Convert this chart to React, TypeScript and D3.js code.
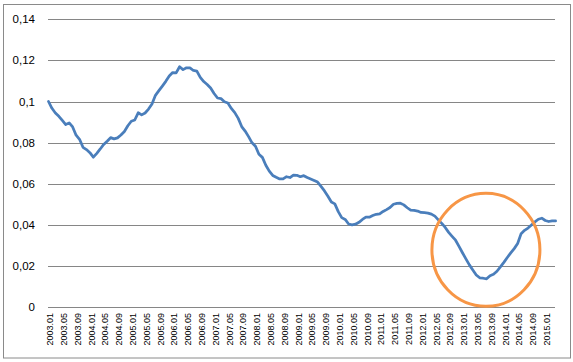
import React, { useEffect, useRef } from 'react';
import * as d3 from 'd3';

// monthly values, 2003.01 .. 2015.04
const values: number[] = [
  0.1, 0.0967, 0.0944, 0.0928, 0.0908, 0.0888, 0.0896, 0.0876, 0.0836, 0.0816,
  0.0777, 0.0766, 0.0751, 0.0729, 0.0748, 0.0769, 0.0791, 0.0807, 0.0824, 0.0818,
  0.0823, 0.0837, 0.0854, 0.0882, 0.0904, 0.091, 0.0945, 0.0935, 0.0944, 0.0963,
  0.0988, 0.103, 0.1053, 0.1075, 0.1098, 0.1124, 0.1141, 0.1139, 0.1169, 0.1155,
  0.1164, 0.1164, 0.1151, 0.1148, 0.1117, 0.1097, 0.1083, 0.1066, 0.1039, 0.1017,
  0.1014, 0.0999, 0.0993, 0.0966, 0.0946, 0.0918, 0.0878, 0.0856, 0.0829, 0.0799,
  0.0782, 0.0743, 0.0728, 0.069, 0.0661, 0.064, 0.0631, 0.0623, 0.0623, 0.0634,
  0.063, 0.0642, 0.0641, 0.0634, 0.0639, 0.063, 0.0623, 0.0616, 0.0608, 0.0587,
  0.0565, 0.0539, 0.0511, 0.0502, 0.0464, 0.0435, 0.0426, 0.0404, 0.04, 0.0403,
  0.0412, 0.0426, 0.0437, 0.0437, 0.0445, 0.0451, 0.0453, 0.0465, 0.0474, 0.0484,
  0.05, 0.0504, 0.0505, 0.0497, 0.0483, 0.0471, 0.047, 0.0467, 0.046, 0.0459,
  0.0457, 0.0452, 0.0442, 0.0424, 0.0407, 0.0387, 0.0363, 0.0344, 0.0325, 0.0295,
  0.0264, 0.0234, 0.0205, 0.018, 0.0156, 0.0142, 0.014, 0.0137, 0.0152, 0.0159,
  0.0174, 0.0195, 0.0217, 0.0241, 0.0263, 0.0284, 0.0309, 0.0357, 0.0373, 0.0384,
  0.0399, 0.0414, 0.0427, 0.0432, 0.0421, 0.0416, 0.0419, 0.0419,
];

const startYear = 2003;
const months: string[] = values.map((_, i) => {
  const y = startYear + Math.floor(i / 12);
  const m = (i % 12) + 1;
  return `${y}.${m < 10 ? '0' + m : m}`;
});
// every 4th month gets a label
const tickLabels = months.filter((_, i) => i % 4 === 0);
const yTicks = [0, 0.02, 0.04, 0.06, 0.08, 0.1, 0.12, 0.14];

// highlighted dip (month index, value)
const highlight = { month: 126.8, value: 0.0278 };

const W = 573;
const H = 362;

export default function App() {
  const svgRef = useRef<SVGSVGElement>(null);

  useEffect(() => {
    if (!svgRef.current) return;
    const svg = d3.select(svgRef.current);
    svg.selectAll('*').remove();

    const left = 48.5;
    const right = 555.6;
    const top = 19.3;
    const bottom = 307;

    const x = d3.scalePoint<string>().domain(months).range([left, right]);
    const y = d3.scaleLinear().domain([0, 0.14]).range([bottom, top]);
    const xi = d3.scaleLinear().domain([0, months.length - 1]).range([left, right]);

    // chart border
    svg.append('rect')
      .attr('x', 3.5).attr('y', 4.5)
      .attr('width', 567).attr('height', 353.5)
      .attr('fill', '#fff')
      .attr('stroke', '#8a8a8a')
      .attr('stroke-width', 1);

    // gridlines
    svg.append('g')
      .selectAll('line')
      .data(yTicks)
      .enter()
      .append('line')
      .attr('x1', 48)
      .attr('x2', 555)
      .attr('y1', d => Math.round(y(d)) + 0.5)
      .attr('y2', d => Math.round(y(d)) + 0.5)
      .attr('stroke', '#868686')
      .attr('stroke-width', 1);

    // y labels
    const fmt = (d: number) => (d === 0 ? '0' : String(+d.toFixed(2)).replace('.', ','));
    svg.append('g')
      .selectAll('text')
      .data(yTicks)
      .enter()
      .append('text')
      .attr('x', 35)
      .attr('y', d => y(d))
      .attr('dy', '0.35em')
      .attr('text-anchor', 'end')
      .attr('font-family', '"Liberation Sans", Arial, sans-serif')
      .attr('font-size', 11.5)
      .attr('fill', '#000')
      .text(fmt);

    // x labels
    svg.append('g')
      .selectAll('text')
      .data(tickLabels)
      .enter()
      .append('text')
      .attr('transform', d => `translate(${(x(d) ?? 0) + 1.5},313) rotate(-90)`)
      .attr('dy', '0.35em')
      .attr('text-anchor', 'end')
      .attr('font-family', '"Liberation Sans", Arial, sans-serif')
      .attr('font-size', 9)
      .attr('fill', '#000')
      .text(d => d);

    // line
    const line = d3.line<number>()
      .x((_, i) => x(months[i]) ?? 0)
      .y(d => y(d));

    svg.append('path')
      .datum(values)
      .attr('d', line)
      .attr('fill', 'none')
      .attr('stroke', '#4A7EBB')
      .attr('stroke-width', 2.75)
      .attr('stroke-linejoin', 'round')
      .attr('stroke-linecap', 'round');

    // orange highlight
    svg.append('ellipse')
      .attr('cx', xi(highlight.month))
      .attr('cy', y(highlight.value))
      .attr('rx', 54)
      .attr('ry', 56.5)
      .attr('fill', 'none')
      .attr('stroke', '#F79646')
      .attr('stroke-width', 3);
  }, []);

  return (
    <div style={{ position: 'fixed', left: 0, top: 0 }}>
      <svg ref={svgRef} width={W} height={H} style={{ display: 'block' }} />
    </div>
  );
}
